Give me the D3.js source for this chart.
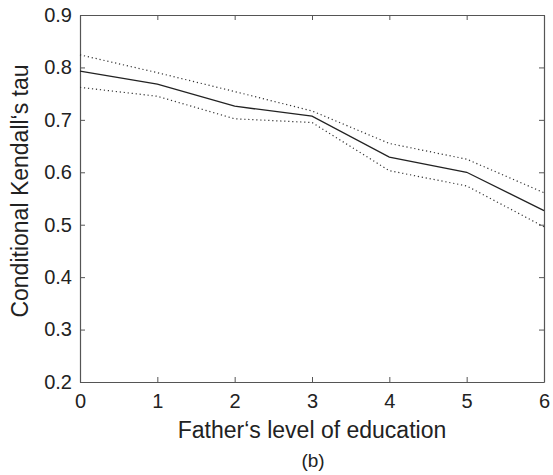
<!DOCTYPE html>
<html>
<head>
<meta charset="utf-8">
<script src="https://cdn.jsdelivr.net/npm/d3@7"></script>
<style>
  html, body { margin: 0; padding: 0; background: #fff; }
  svg text { font-family: "Liberation Sans", Arial, Helvetica, sans-serif; fill: #222; }
</style>
</head>
<body>
<svg id="chart" width="553" height="475"></svg>
<script>
const educationLevels = [0, 1, 2, 3, 4, 5, 6];
const tauEstimate = [0.793, 0.768, 0.726, 0.707, 0.629, 0.600, 0.527];
const tauUpper    = [0.824, 0.790, 0.754, 0.717, 0.655, 0.625, 0.561];
const tauLower    = [0.762, 0.745, 0.702, 0.695, 0.603, 0.574, 0.496];
const xTicks = [0, 1, 2, 3, 4, 5, 6];
const yTicks = [0.2, 0.3, 0.4, 0.5, 0.6, 0.7, 0.8, 0.9];
const xLabel = "Father\u2018s level of education";
const yLabel = "Conditional Kendall\u2018s tau";
const caption = "(b)";

const svg = d3.select("#chart");
const pL = 80, pR = 544, pT = 15, pB = 382;
const x = d3.scaleLinear().domain([0, 6]).range([pL, pR]);
const y = d3.scaleLinear().domain([0.2, 0.9]).range([pB, pT]);
const axisColor = "#555";

const gB = svg.append("g").attr("transform", `translate(0,${pB})`)
  .call(d3.axisBottom(x).tickValues(xTicks).tickFormat(d3.format("d")).tickSizeInner(-5).tickSizeOuter(0).tickPadding(10));
const gT = svg.append("g").attr("transform", `translate(0,${pT})`)
  .call(d3.axisTop(x).tickValues(xTicks).tickFormat("").tickSizeInner(-5).tickSizeOuter(0));
const gL = svg.append("g").attr("transform", `translate(${pL},0)`)
  .call(d3.axisLeft(y).tickValues(yTicks).tickFormat(d3.format(".1f")).tickSizeInner(-5).tickSizeOuter(0).tickPadding(8));
const gR = svg.append("g").attr("transform", `translate(${pR},0)`)
  .call(d3.axisRight(y).tickValues(yTicks).tickFormat("").tickSizeInner(-5).tickSizeOuter(0));

[gB, gT, gL, gR].forEach(g => {
  g.select(".domain").attr("stroke", axisColor).attr("stroke-width", 1.2);
  g.selectAll(".tick line").attr("stroke", axisColor).attr("stroke-width", 1);
  g.selectAll(".tick text").attr("font-size", 20).attr("fill", "#222")
    .style("font-family", '"Liberation Sans", Arial, sans-serif');
});
gB.selectAll(".tick text").attr("dy", "0.8em");

const line = (vals) => d3.line().x((d, i) => x(educationLevels[i])).y(d => y(d))(vals);

svg.append("path").attr("d", line(tauUpper)).attr("fill", "none")
  .attr("stroke", "#333").attr("stroke-width", 1.2).attr("stroke-dasharray", "1.2,2.8");
svg.append("path").attr("d", line(tauLower)).attr("fill", "none")
  .attr("stroke", "#333").attr("stroke-width", 1.2).attr("stroke-dasharray", "1.2,2.8");
svg.append("path").attr("d", line(tauEstimate)).attr("fill", "none")
  .attr("stroke", "#222").attr("stroke-width", 1.3);

svg.append("text").attr("x", (pL + pR) / 2).attr("y", 438)
  .attr("text-anchor", "middle").attr("font-size", 23).text(xLabel);
svg.append("text").attr("transform", "translate(28,191) rotate(-90)")
  .attr("text-anchor", "middle").attr("font-size", 23).text(yLabel);
svg.append("text").attr("x", 313).attr("y", 467)
  .attr("text-anchor", "middle").attr("font-size", 19).text(caption);
</script>
</body>
</html>
